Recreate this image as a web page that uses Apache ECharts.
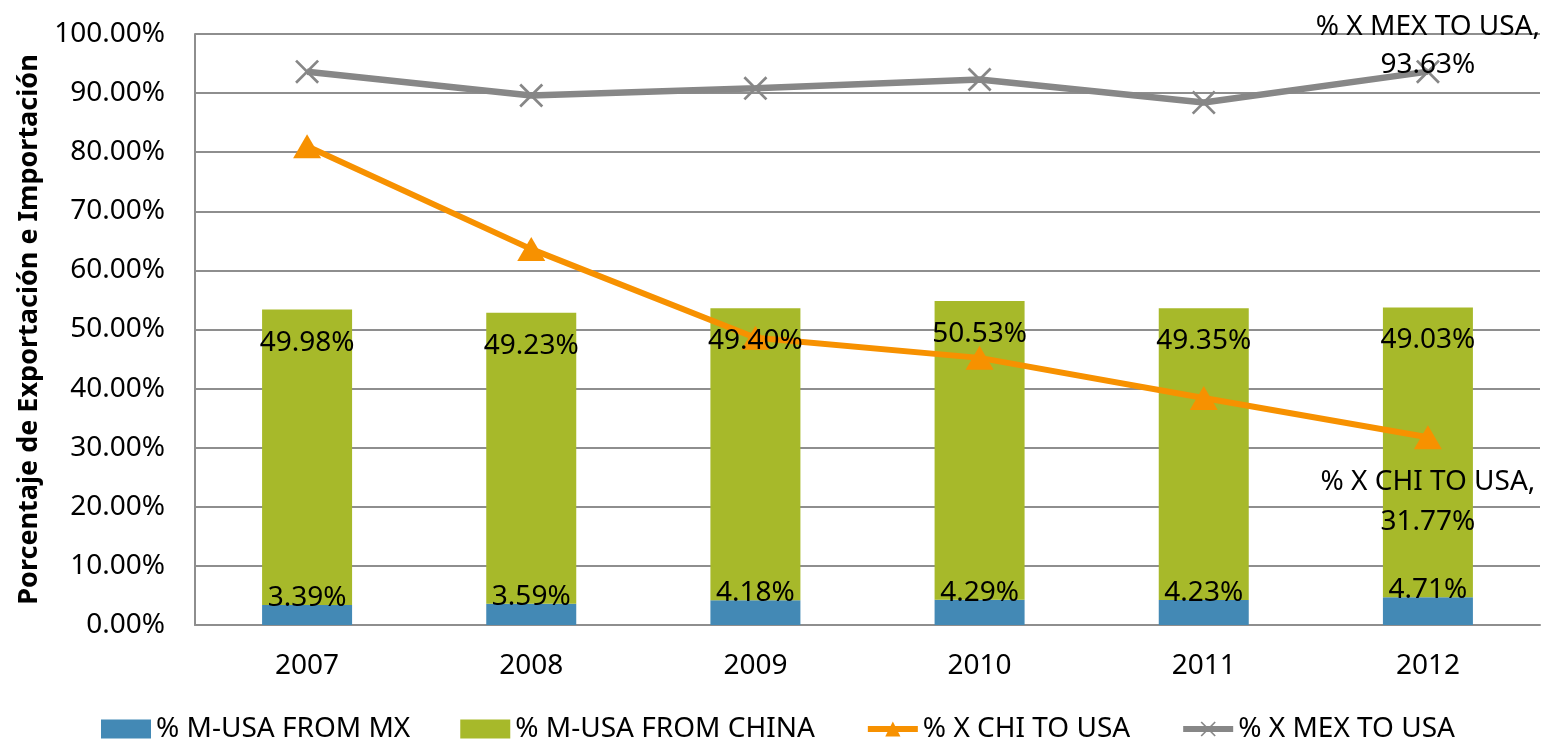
<!DOCTYPE html>
<html>
<head>
<meta charset="utf-8">
<script src="https://cdn.jsdelivr.net/npm/echarts@6/dist/echarts.min.js"></script>
<style>
  html, body { margin: 0; padding: 0; background: #fff; }
  #chart { width: 1545px; height: 744px; }
</style>
</head>
<body>
<div id="chart"></div>
<script>
  const years = ['2007', '2008', '2009', '2010', '2011', '2012'];
  const fromMx = [3.39, 3.59, 4.18, 4.29, 4.23, 4.71];
  const fromChina = [49.98, 49.23, 49.40, 50.53, 49.35, 49.03];
  const chiToUsa = [81.0, 63.6, 48.6, 45.2, 38.4, 31.77];
  const mexToUsa = [93.63, 89.6, 90.8, 92.3, 88.4, 93.63];
  const yTicks = [0, 10, 20, 30, 40, 50, 60, 70, 80, 90, 100];

  const FONT = "'Noto Sans', sans-serif";
  const BLUE = '#4389B5';
  const GREEN = '#A7B92A';
  const ORANGE = '#F79100';
  const GRAY = '#878787';
  const GRID = '#8E8E8E';
  const CROSS = 'path://M0,0.8L0.8,0L10,9.2L9.2,10Z M9.2,0L10,0.8L0.8,10L0,9.2Z';

  const pct = (v) => v.toFixed(2) + '%';

  // only the last point of each line carries a label
  const lastLabel = (arr, name, label) => arr.map((v, i) => i === arr.length - 1
    ? { value: v, label: Object.assign({ show: true, formatter: name + ',\n' + pct(v) }, label) }
    : v);

  const barLabel = { show: true, fontSize: 28, color: '#000', formatter: (p) => pct(p.value) };

  // bars drawn twice: coloured under the lines, transparent copy on top to hold the labels
  const bars = (stack, z, withColor) => [
    {
      name: withColor ? '% M-USA FROM MX' : 'lbl-mx',
      type: 'bar', stack, barWidth: 90, barGap: '-100%', z,
      data: fromMx,
      itemStyle: { color: withColor ? BLUE : 'transparent' },
      label: withColor ? { show: false } : Object.assign({ position: 'top', distance: 0, offset: [0, 7] }, barLabel),
      silent: !withColor,
    },
    {
      name: withColor ? '% M-USA FROM CHINA' : 'lbl-cn',
      type: 'bar', stack, barWidth: 90, barGap: '-100%', z,
      data: fromChina,
      itemStyle: { color: withColor ? GREEN : 'transparent' },
      label: withColor ? { show: false } : Object.assign({ position: 'insideTop', distance: 5, offset: [0, 14] }, barLabel),
      silent: !withColor,
    },
  ];

  const chart = echarts.init(document.getElementById('chart'), null, { renderer: 'canvas' });
  chart.setOption({
    animation: false,
    textStyle: { fontFamily: FONT, color: '#000' },
    grid: { left: 195, right: 5, top: 34, bottom: 119, outerBoundsMode: 'none' },
    legend: {
      bottom: -4,
      left: 96,
      itemGap: 50,
      itemWidth: 50,
      itemHeight: 19,
      textStyle: { fontFamily: FONT, fontSize: 28, color: '#000' },
      data: [
        { name: '% M-USA FROM MX', icon: 'rect' },
        { name: '% M-USA FROM CHINA', icon: 'rect' },
        { name: '% X CHI TO USA', lineStyle: { width: 6 } },
        { name: '% X MEX TO USA', lineStyle: { width: 6 } },
      ],
    },
    xAxis: {
      type: 'category',
      data: years,
      axisTick: { show: false },
      axisLine: { lineStyle: { color: GRID, width: 2 } },
      axisLabel: { fontFamily: FONT, fontSize: 28, color: '#000', margin: 27 },
    },
    yAxis: {
      type: 'value',
      min: yTicks[0],
      max: yTicks[yTicks.length - 1],
      interval: 10,
      name: 'Porcentaje de Exportación e Importación',
      nameLocation: 'middle',
      nameGap: 148,
      nameTextStyle: { fontFamily: FONT, fontSize: 27, fontWeight: 'bold', color: '#000' },
      axisLine: { show: true, lineStyle: { color: GRID, width: 2 } },
      axisTick: { show: false },
      axisLabel: { fontFamily: FONT, fontSize: 28, color: '#000', margin: 30, formatter: pct },
      splitLine: { lineStyle: { color: GRID, width: 2 } },
    },
    series: [
      ...bars('m', 2, true),
      {
        name: '% X CHI TO USA',
        type: 'line',
        data: lastLabel(chiToUsa, '% X CHI TO USA', { position: 'inside', offset: [0, 65], fontSize: 28, lineHeight: 40, color: '#000' }),
        symbol: 'triangle',
        symbolSize: [28, 24],
        lineStyle: { color: ORANGE, width: 6 },
        itemStyle: { color: ORANGE },
        z: 3,
      },
      {
        name: '% X MEX TO USA',
        type: 'line',
        data: lastLabel(mexToUsa, '% X MEX TO USA', { position: 'inside', offset: [0, -26], fontSize: 28, lineHeight: 38, color: '#000' }),
        symbol: CROSS,
        symbolSize: 24,
        lineStyle: { color: GRAY, width: 6.5 },
        itemStyle: { color: GRAY },
        z: 3,
      },
      ...bars('lbl', 5, false),
    ],
  });
</script>
</body>
</html>
